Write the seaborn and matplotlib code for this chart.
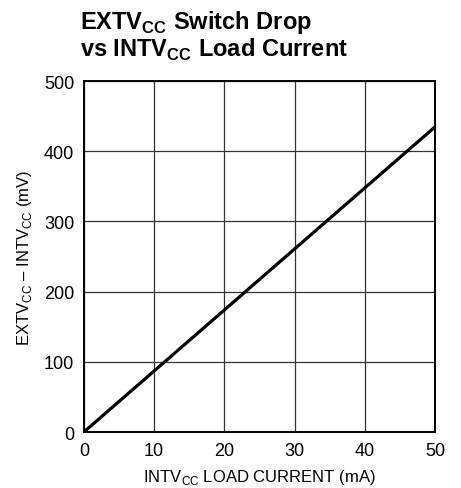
import matplotlib
matplotlib.use("Agg")
import matplotlib.pyplot as plt
import seaborn as sns
import pandas as pd

# data
load_current_ma = [0, 50]
switch_drop_mv = [0, 435]
x_ticks = [0, 10, 20, 30, 40, 50]
y_ticks = [0, 100, 200, 300, 400, 500]

sns.set_theme(style="white")
plt.rcParams['font.family'] = ['Liberation Sans', 'DejaVu Sans']
plt.rcParams['mathtext.fontset'] = 'custom'
plt.rcParams['mathtext.rm'] = 'Liberation Sans'
plt.rcParams['text.color'] = 'black'

df = pd.DataFrame({"current": load_current_ma, "drop": switch_drop_mv})

fig = plt.figure(figsize=(4.61, 4.89), dpi=100)
ax = fig.add_axes([0.182, 0.1145, 0.762, 0.7175])

sns.lineplot(data=df, x="current", y="drop", ax=ax, color="black", linewidth=2.3)

ax.set_xlim(0, 50)
ax.set_ylim(0, 500)
ax.set_xticks(x_ticks)
ax.set_yticks(y_ticks)
ax.tick_params(axis="x", length=0, labelsize=13, colors="black", pad=7)
ax.tick_params(axis="y", length=0, labelsize=13, colors="black", pad=7)
ax.grid(True, color="#333333", linewidth=0.9)
for s in ax.spines.values():
    s.set_visible(True)
    s.set_color("black")
    s.set_linewidth(1.4)

ax.set_xlabel(r"INTV$_{\mathregular{CC}}$ LOAD CURRENT (mA)", fontsize=12, color="black", labelpad=6)
ax.set_ylabel(r"EXTV$_{\mathregular{CC}}$ – INTV$_{\mathregular{CC}}$ (mV)", fontsize=12, color="black", labelpad=7)

fig.text(0.173, 0.94, r"EXTV$_{\mathregular{CC}}$ Switch Drop", fontsize=17, fontweight="bold", ha="left", va="baseline", color="black")
fig.text(0.173, 0.883, r"vs INTV$_{\mathregular{CC}}$ Load Current", fontsize=17, fontweight="bold", ha="left", va="baseline", color="black")

fig.savefig("out.png", dpi=100)
